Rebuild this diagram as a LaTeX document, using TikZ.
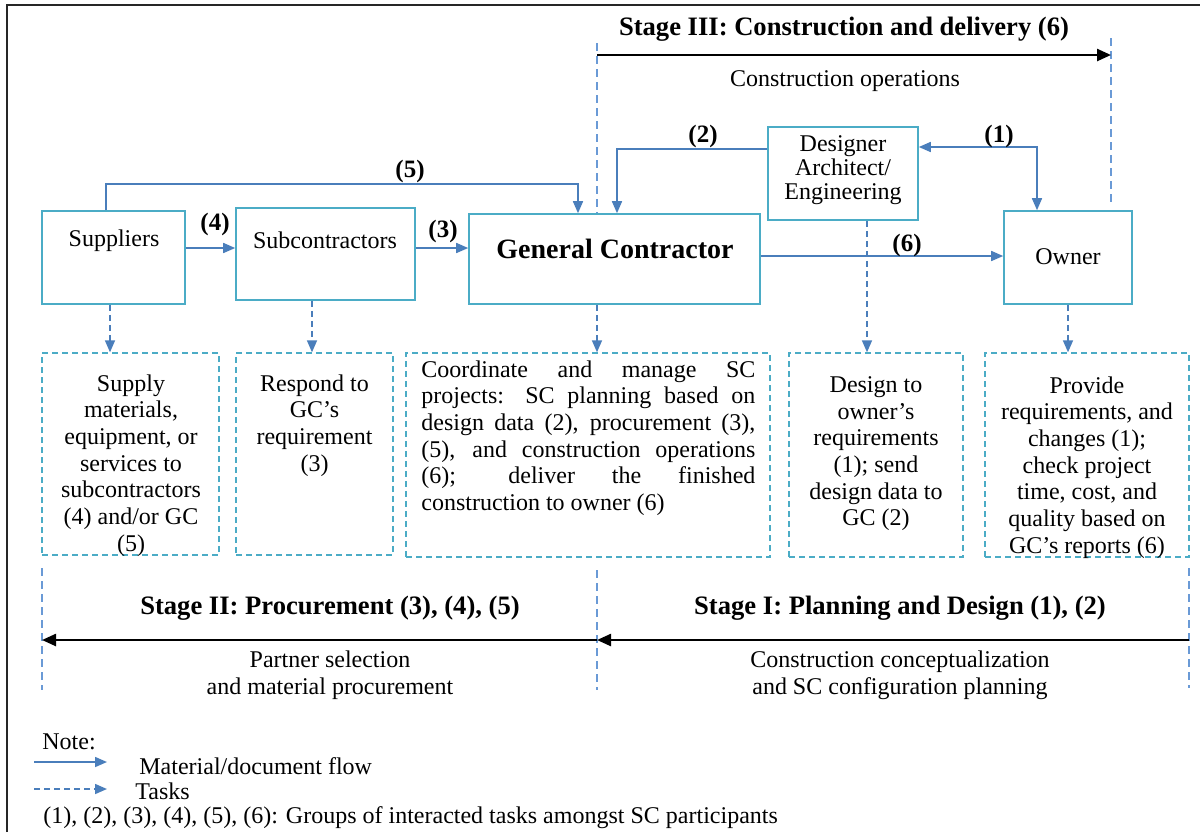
\documentclass[tikz,border=0pt]{standalone}
\usepackage{fontspec}
\setmainfont{Liberation Serif}
\usetikzlibrary{arrows.meta,fit}
\definecolor{boxline}{HTML}{4BACC6}
\definecolor{flowline}{HTML}{4A7EBB}
\definecolor{divline}{HTML}{6A9AD6}
\definecolor{frameline}{HTML}{262626}
% one justified line of the coordination task text
\newcommand\jline[1]{\makebox[167pt][s]{#1}}

\begin{document}
\begin{tikzpicture}[x=0.5pt,y=-0.5pt,
  txt/.style={font=\fontsize{12}{13.35}\selectfont, inner sep=0pt},
  bold/.style={inner sep=0pt, font=\fontsize{12.5}{14}\selectfont\bfseries},
  stagetitle/.style={inner sep=0pt, font=\fontsize{13.3}{15}\selectfont\bfseries},
  party/.style={draw=boxline, line width=0.8pt, inner sep=0pt},
  taskbox/.style={draw=boxline, line width=0.7pt, dash pattern=on 3pt off 2pt, inner sep=0pt},
  flow/.style={draw=flowline, line width=0.8pt, -{Triangle[length=6pt,width=5pt]}},
  twoway/.style={draw=flowline, line width=0.8pt, {Triangle[length=6pt,width=5pt]}-{Triangle[length=6pt,width=5pt]}},
  taskflow/.style={flow, dash pattern=on 3pt off 2pt},
  divider/.style={draw=divline, line width=0.6pt, dash pattern=on 4pt off 2.5pt},
  stagearrow/.style={draw=black, line width=1.2pt, -{Triangle[length=7pt,width=6pt]}},
]
\useasboundingbox (0,0) rectangle (1200,832);

% outer frame (only left and top edges fall inside the page)
\draw[frameline, line width=1pt] (7,832) -- (7,5) -- (1200,5);

% supply chain participants
\node[party, fit={(42,211) (185,304)}] (sup) {};
\node[party, fit={(236,208) (415,300)}] (sub) {};
\node[party, fit={(469,214) (760,304)}] (gc) {};
\node[party, fit={(768,127) (918,220)}] (des) {};
\node[party, fit={(1004,211) (1132,304)}] (own) {};

\node[txt] at (114,241) {Suppliers};
\node[txt] at (325,240) {Subcontractors};
\node[inner sep=0pt, font=\fontsize{14}{16}\selectfont\bfseries] at (615,249) {General Contractor};
\node[inner sep=0pt, align=center, font=\fontsize{12}{12}\selectfont] at (843,170) {Designer\\Architect/\\Engineering};
\node[txt] at (1068,257) {Owner};

% tasks of each participant
\node[taskbox, fit={(42,353) (219,555)}] (t1) {};
\node[taskbox, fit={(236,353) (393,555)}] (t2) {};
\node[taskbox, fit={(406,353) (770,557)}] (t3) {};
\node[taskbox, fit={(789,353) (963,557)}] (t4) {};
\node[taskbox, fit={(985,353) (1189,557)}] (t5) {};

\node[txt, align=center, anchor=north] at (131,374) {Supply\\materials,\\equipment, or\\services to\\subcontractors\\(4) and/or GC\\(5)};
\node[txt, align=center, anchor=north] at (314.5,374) {Respond to\\GC’s\\requirement\\(3)};
\node[txt, align=left, anchor=north west] at (421,360) {\jline{Coordinate and manage SC}\\\jline{projects: SC planning based on}\\\jline{design data (2), procurement (3),}\\\jline{(5), and construction operations}\\\jline{(6); deliver the finished}\\construction to owner (6)};
\node[txt, align=center, anchor=north] at (876,376) {Design to\\owner’s\\requirements\\(1); send\\design data to\\GC (2)};
\node[txt, align=center, anchor=north] at (1087,376) {Provide\\requirements, and\\changes (1);\\check project\\time, cost, and\\quality based on\\GC’s reports (6)};

% material / document flows
\draw[flow] (sup.east |- 0,248) -- (sub.west |- 0,248);
\draw[flow] (sub.east |- 0,248) -- (gc.west |- 0,248);
\draw[flow] (sup.north -| 106,0) |- (578,184) -- (gc.north -| 578,0);
\draw[flow] (des.west |- 0,149) -| (gc.north -| 617,0);
\draw[twoway] (des.east |- 0,147) -| (own.north -| 1037,0);
\draw[flow] (gc.east |- 0,256) -- (own.west |- 0,256);

\node[bold] at (215,224) {(4)};
\node[bold] at (443,231) {(3)};
\node[bold] at (410,171) {(5)};
\node[bold] at (703,136) {(2)};
\node[bold] at (999,136) {(1)};
\node[bold] at (907,245) {(6)};

% participant-to-task links
\draw[taskflow] (sup.south -| 110,0) -- (t1.north -| 110,0);
\draw[taskflow] (sub.south -| 312,0) -- (t2.north -| 312,0);
\draw[taskflow] (gc.south -| 597,0) -- (t3.north -| 597,0);
\draw[taskflow] (des.south -| 867,0) -- (t4.north -| 867,0);
\draw[taskflow] (own.south -| 1068,0) -- (t5.north -| 1068,0);

% stage III
\coordinate (s3top) at (597,43);
\coordinate (s3rtop) at (1111,38);
\coordinate (s3rbot) at (1111,205);
\coordinate (s3l) at (597,55);
\coordinate (s3r) at (1111,55);
\draw[divider] (s3top) -- (gc.north -| s3top);
\draw[divider] (s3rtop) -- (s3rbot);
\draw[stagearrow] (s3l) -- (s3r);
\node[stagetitle] at (844,29) {Stage III: Construction and delivery (6)};
\node[txt] at (845,81) {Construction operations};

% stages I and II
\coordinate (d1a) at (42,568);   \coordinate (d1b) at (42,690);
\coordinate (d2a) at (597,570);  \coordinate (d2b) at (597,690);
\coordinate (d3a) at (1189,568); \coordinate (d3b) at (1189,688);
\draw[divider] (d1a) -- (d1b);
\draw[divider] (d2a) -- (d2b);
\draw[divider] (d3a) -- (d3b);
\coordinate (sIr) at (1189,640);
\coordinate (sIl) at (597,640);
\coordinate (sIIl) at (42,640);
\draw[stagearrow] (sIr) -- (sIl);
\draw[stagearrow] (sIl) -- (sIIl);
\node[stagetitle] at (330,608) {Stage II: Procurement (3), (4), (5)};
\node[txt, align=center] at (330,675) {Partner selection\\and material procurement};
\node[stagetitle] at (900,608) {Stage I: Planning and Design (1), (2)};
\node[txt, align=center] at (900,675) {Construction conceptualization\\and SC configuration planning};

% legend
\node[txt, anchor=west] at (42,742) {Note:};
\coordinate (la1) at (34,762); \coordinate (la2) at (107,762);
\coordinate (lb1) at (34,789); \coordinate (lb2) at (107,789);
\draw[flow] (la1) -- (la2);
\draw[taskflow] (lb1) -- (lb2);
\node[txt, anchor=west] at (139,766) {Material/document flow};
\node[txt, anchor=west] at (135,791) {Tasks};
\node[txt, anchor=west] at (43,818) {(1), (2), (3), (4), (5), (6): Groups of interacted tasks amongst SC participants};
\end{tikzpicture}
\end{document}
